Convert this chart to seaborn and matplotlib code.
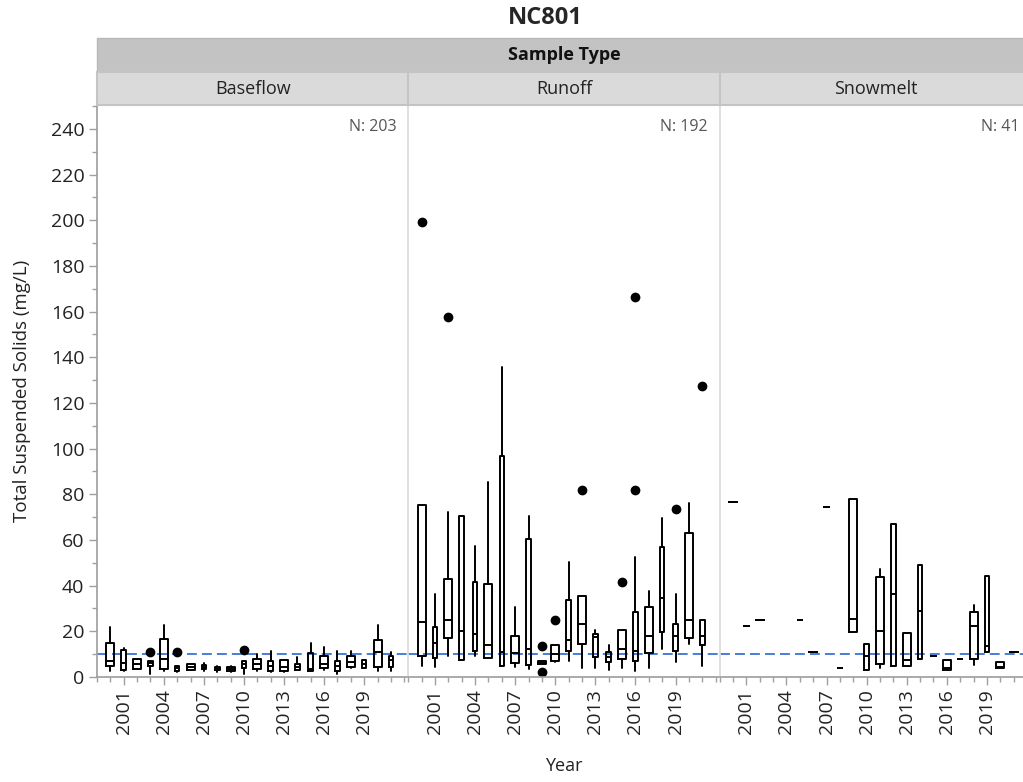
import numpy as np
import pandas as pd
import matplotlib
matplotlib.use("Agg")
import matplotlib.pyplot as plt
from matplotlib.patches import Rectangle
from matplotlib.ticker import MultipleLocator
import seaborn as sns

nan = np.nan

years = list(range(2000, 2022))
sample_types = ["Baseflow", "Runoff", "Snowmelt"]
n_labels = ["N: 203", "N: 192", "N: 41"]

# Baseflow box stats (mg/L)
bf_lo = [2.8, 2.5, 3.5, 1.3, 2.8, 2.0, 3.1, 2.5, 2.0, 2.0, 1.3, 2.6, 2.0, 2.0, 3.1, 2.8, 3.0, 1.3, 3.8, 4.1, 2.8, 2.8]
bf_q1 = [5.0, 3.0, 3.5, 5.0, 3.5, 2.8, 3.1, 3.5, 3.0, 2.8, 4.1, 3.5, 2.8, 2.8, 3.1, 2.8, 3.8, 2.8, 4.5, 4.1, 4.5, 4.5]
bf_med = [7.1, 6.0, 5.7, 6.0, 7.9, 4.0, 4.2, 4.2, 3.6, 3.5, 5.5, 5.5, 5.0, 4.5, 4.5, 3.5, 5.7, 5.0, 6.5, 5.5, 10.8, 7.5]
bf_q3 = [14.7, 11.8, 7.9, 7.1, 16.6, 5.0, 5.7, 5.2, 4.3, 4.3, 6.9, 7.9, 7.1, 7.6, 5.7, 10.3, 9.0, 7.1, 9.3, 7.4, 16.3, 9.3]
bf_hi = [22.0, 12.5, 7.9, 7.1, 22.7, 5.0, 5.7, 6.0, 4.8, 5.0, 6.9, 10.0, 11.5, 7.6, 8.6, 14.7, 13.1, 11.5, 11.5, 7.4, 22.7, 11.0]
bf_out = {2003: [11.1], 2005: [11.1], 2010: [11.9]}

# Runoff box stats (mg/L)
ro_lo = [5.0, 4.2, 9.3, 7.4, 9.0, 8.2, 5.0, 4.2, 3.5, 5.5, 6.7, 7.1, 3.9, 3.9, 3.2, 3.9, 2.5, 3.8, 12.2, 6.7, 14.4, 5.0]
ro_q1 = [9.3, 8.2, 17.0, 7.4, 11.2, 8.2, 5.0, 6.0, 5.4, 5.5, 7.1, 11.2, 14.4, 8.8, 6.6, 7.9, 7.1, 10.5, 19.8, 11.2, 17.0, 14.0]
ro_med = [24.2, 14.9, 24.9, 20.3, 18.8, 14.1, 10.8, 10.3, 12.2, 6.1, 10.0, 16.0, 23.2, 17.5, 8.8, 12.3, 11.2, 17.8, 34.4, 18.0, 24.9, 18.0]
ro_q3 = [75.2, 21.7, 43.1, 70.5, 41.4, 40.7, 97.0, 18.0, 60.3, 6.8, 13.8, 33.8, 35.6, 18.8, 10.8, 20.7, 28.4, 30.5, 57.0, 23.2, 63.2, 24.9]
ro_hi = [75.2, 36.3, 72.3, 70.5, 57.4, 85.5, 135.8, 30.7, 70.5, 6.8, 13.8, 50.2, 35.6, 20.7, 14.1, 20.7, 52.5, 37.5, 69.8, 36.3, 76.4, 24.9]
ro_out = {2000: [199.3], 2002: [157.8], 2009: [13.4, 2.2], 2010: [24.8], 2012: [81.7],
          2015: [41.4], 2016: [81.7, 166.6], 2019: [73.7], 2021: [127.3]}

# Snowmelt box stats (mg/L), no samples in 2003 and 2004
sm_lo = [76.6, 22.4, 24.9, nan, nan, 24.9, 10.8, 74.5, 3.8, 19.7, 3.2, 3.9, 4.6, 4.6, 7.9, 9.0, 3.2, 7.9, 5.4, 10.9, 3.9, 10.9]
sm_q1 = [76.6, 22.4, 24.9, nan, nan, 24.9, 10.8, 74.5, 3.8, 19.7, 3.2, 5.7, 4.6, 4.6, 7.9, 9.0, 3.2, 7.9, 7.9, 10.9, 3.9, 10.9]
sm_med = [76.6, 22.4, 24.9, nan, nan, 24.9, 10.8, 74.5, 3.8, 25.4, 9.0, 20.0, 36.5, 7.6, 28.7, 9.0, 3.9, 7.9, 22.5, 13.4, 4.2, 10.9]
sm_q3 = [76.6, 22.4, 24.9, nan, nan, 24.9, 10.8, 74.5, 3.8, 78.0, 14.4, 43.6, 67.1, 19.3, 48.9, 9.0, 7.3, 7.9, 28.3, 44.3, 6.6, 10.9]
sm_hi = [76.6, 22.4, 24.9, nan, nan, 24.9, 10.8, 74.5, 3.8, 78.0, 14.4, 47.4, 67.1, 19.3, 48.9, 9.0, 7.3, 7.9, 31.6, 44.3, 6.6, 10.9]
sm_out = {}

# years drawn with the wider box in each panel (render style)
wide_years = {
    "Baseflow": [2000, 2002, 2004, 2006, 2009, 2011, 2013, 2016, 2018, 2020],
    "Runoff": [2000, 2002, 2005, 2007, 2009, 2010, 2012, 2015, 2017, 2020],
    "Snowmelt": [2000, 2002, 2006, 2009, 2011, 2013, 2016, 2018, 2020, 2021],
}


def stats_table(name, lo, q1, med, q3, hi, outliers):
    rows = []
    for i, yr in enumerate(years):
        if np.isnan(med[i]):
            continue
        rows.append({"sample_type": name, "year": yr, "lo": lo[i], "q1": q1[i],
                     "med": med[i], "q3": q3[i], "hi": hi[i],
                     "fliers": outliers.get(yr, []),
                     "width": 0.6 if yr in wide_years[name] else 0.34})
    return pd.DataFrame(rows)


df = pd.concat([
    stats_table("Baseflow", bf_lo, bf_q1, bf_med, bf_q3, bf_hi, bf_out),
    stats_table("Runoff", ro_lo, ro_q1, ro_med, ro_q3, ro_hi, ro_out),
    stats_table("Snowmelt", sm_lo, sm_q1, sm_med, sm_q3, sm_hi, sm_out),
], ignore_index=True)


def draw_boxes(data, **kws):
    ax = plt.gca()
    stats = [dict(whislo=r.lo, q1=r.q1, med=r.med, q3=r.q3, whishi=r.hi, fliers=r.fliers)
             for r in data.itertuples()]
    line = dict(color="black", linewidth=1.4)
    ax.bxp(stats, positions=data["year"].tolist(), widths=data["width"].tolist(),
           showcaps=False, manage_ticks=False,
           boxprops=line, medianprops=line, whiskerprops=line,
           flierprops=dict(marker="o", markerfacecolor="black", markeredgecolor="black",
                           markersize=6))
    ax.axhline(10, color="#3a74d6", linewidth=1.3, dashes=(5.5, 2.8), zorder=1.5)


sns.set_theme(style="ticks")
plt.rcParams["font.family"] = ["Open Sans", "DejaVu Sans"]

g = sns.FacetGrid(df, col="sample_type", col_order=sample_types, sharey=True, height=5, aspect=0.6)
g.map_dataframe(draw_boxes)
g.set_titles(template="")
g.set_axis_labels("", "")

fig = g.figure
fig.set_size_inches(10.23, 7.82)
fig.subplots_adjust(left=0.0948, right=1.0078, bottom=0.1343, top=0.8657, wspace=0)

tick_col = "#a0a0a0"
for i, ax in enumerate(g.axes.flat):
    ax.set_xlim(1999.0, 2022.3)
    ax.set_ylim(0, 250.5)
    ax.set_xticks(range(2001, 2020, 3))
    ax.set_xticklabels([str(y) for y in range(2001, 2020, 3)], rotation=90, fontsize=14, color="#222222")
    ax.xaxis.set_minor_locator(MultipleLocator(1))
    ax.tick_params(axis="x", which="major", length=6, width=1, color=tick_col, pad=3)
    ax.tick_params(axis="x", which="minor", length=3.5, width=1, color=tick_col)
    ax.spines["bottom"].set_color(tick_col)
    ax.text(0.962, 0.975, n_labels[i], transform=ax.transAxes, ha="right", va="top",
            fontsize=11.5, color="#555555")
    if i == 0:
        ax.set_yticks(range(0, 241, 20))
        ax.yaxis.set_minor_locator(MultipleLocator(10))
        ax.tick_params(axis="y", which="major", length=6, width=1, color=tick_col,
                       labelsize=14, labelcolor="#222222", pad=3)
        ax.tick_params(axis="y", which="minor", length=3.5, width=1, color=tick_col)
        ax.spines["left"].set_color(tick_col)
    else:
        ax.tick_params(axis="y", which="both", left=False, labelleft=False)
        ax.spines["left"].set_color("#dcdcdc")

# strip headers
pos = [ax.get_position() for ax in g.axes.flat]
fig.patches.append(Rectangle((pos[0].x0, 0.9079), 1.02 - pos[0].x0, 0.0435,
                             transform=fig.transFigure, facecolor="#c3c3c3",
                             edgecolor="#b8b8b8", linewidth=1, zorder=0))
fig.text((pos[0].x0 + pos[2].x1) / 2, 0.9297, "Sample Type", ha="center", va="center",
         fontsize=13, fontweight="bold", color="#111111")
for p, name in zip(pos, sample_types):
    fig.patches.append(Rectangle((p.x0, p.y1), p.width, 0.9079 - p.y1,
                                 transform=fig.transFigure, facecolor="#dadada",
                                 edgecolor="#c4c4c4", linewidth=1.5, zorder=0))
    fig.text((p.x0 + p.x1) / 2, (p.y1 + 0.9079) / 2, name, ha="center", va="center",
             fontsize=13, color="#222222")

fig.text(0.533, 0.977, "NC801", ha="center", va="center", fontsize=17, fontweight="bold")
fig.text(564 / 1023, 1 - 766 / 782, "Year", ha="center", va="center", fontsize=13, color="#222222")
fig.text(22 / 1023, 1 - 391 / 782, "Total Suspended Solids (mg/L)", rotation=90,
         ha="center", va="center", fontsize=13.5, color="#222222")

fig.savefig("out.png", dpi=100)
